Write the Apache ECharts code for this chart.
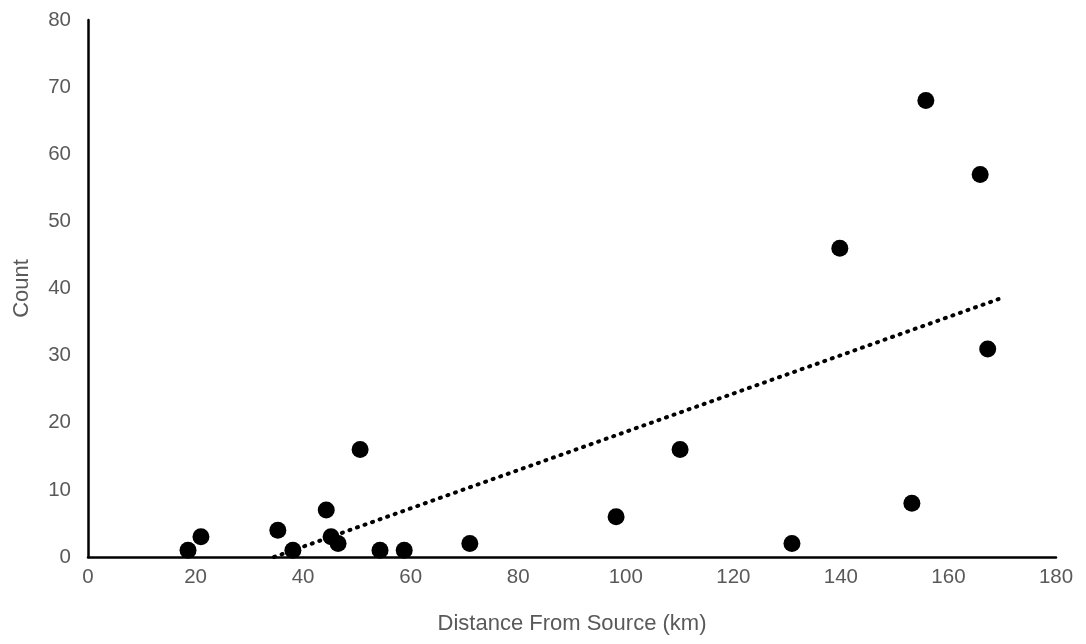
<!DOCTYPE html>
<html>
<head>
<meta charset="utf-8">
<script src="https://cdn.jsdelivr.net/npm/echarts@6/dist/echarts.min.js"></script>
<style>
  html, body { margin: 0; padding: 0; background: #fff; }
  #chart { width: 1086px; height: 644px; }
</style>
</head>
<body>
<div id="chart"></div>
<script>
// 距离 / 数量
var distance = [18.6, 21.0, 35.3, 38.1, 44.3, 45.2, 46.5, 50.6, 54.3, 58.8, 71.0, 98.2, 110.1, 130.9, 139.8, 153.2, 155.8, 165.9, 167.3];
var count    = [1, 3, 4, 1, 7, 3, 2, 16, 1, 1, 2, 6, 16, 2, 46, 8, 68, 57, 31];

// 趋势线端点
var trendX = [34.6, 170.3];
var trendY = [0, 38.7];

var pts = [];
for (var i = 0; i < distance.length; i++) pts.push([distance[i], count[i]]);
var trend = [];
for (var j = 0; j < trendX.length; j++) trend.push([trendX[j], trendY[j]]);

var myChart = echarts.init(document.getElementById('chart'));
var font = 'Liberation Sans, Arial, sans-serif';
var option = {
    animation: false,
    grid: { left: 88, right: 30, top: 20, bottom: 87 },
    xAxis: {
        type: 'value',
        min: 0, max: 180, interval: 20,
        name: 'Distance From Source (km)',
        nameLocation: 'middle',
        nameGap: 56,
        nameTextStyle: { color: '#595959', fontSize: 22, fontFamily: font },
        axisLine: { show: true, onZero: false, lineStyle: { color: '#000', width: 2.5 } },
        axisTick: { show: false },
        splitLine: { show: false },
        axisLabel: { color: '#595959', fontSize: 20.5, fontFamily: font, margin: 10 }
    },
    yAxis: {
        type: 'value',
        min: 0, max: 80, interval: 10,
        name: 'Count',
        nameLocation: 'middle',
        nameGap: 55,
        nameTextStyle: { color: '#595959', fontSize: 22, fontFamily: font },
        axisLine: { show: true, lineStyle: { color: '#000', width: 2.5 } },
        axisTick: { show: false },
        splitLine: { show: false },
        axisLabel: { color: '#595959', fontSize: 20.5, fontFamily: font, margin: 17 }
    },
    series: [
        {
            type: 'line',
            data: trend,
            symbol: 'none',
            z: 1,
            lineStyle: { color: '#000', width: 4, type: [1, 7], cap: 'round' }
        },
        {
            type: 'scatter',
            data: pts,
            symbol: 'circle',
            symbolSize: 17,
            z: 2,
            itemStyle: { color: '#000', opacity: 1 }
        }
    ]
};
myChart.setOption(option, true);
</script>
</body>
</html>
